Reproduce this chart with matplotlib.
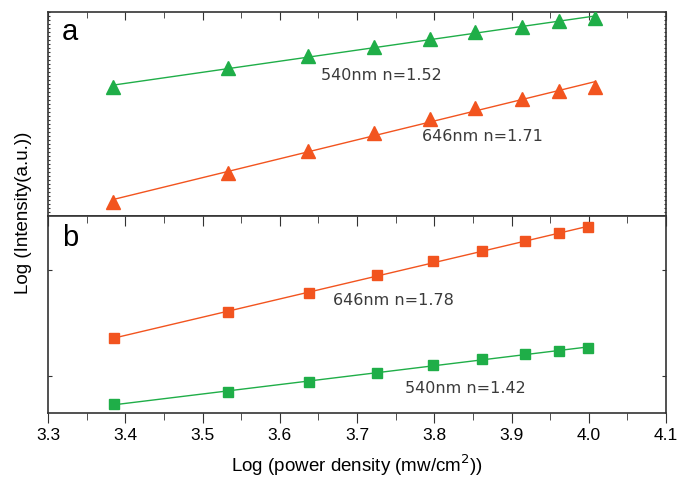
import numpy as np
import matplotlib
matplotlib.use("Agg")
import matplotlib.pyplot as plt
from matplotlib.ticker import MultipleLocator

# ── Data (arbitrary log-intensity units) ──────────────────────────────────────
xa_540 = [3.384, 3.533, 3.636, 3.722, 3.794, 3.853, 3.913, 3.961, 4.008]
ya_540 = [1.287, 1.483, 1.600, 1.693, 1.767, 1.837, 1.887, 1.950, 1.983]
xa_646 = [3.384, 3.533, 3.636, 3.722, 3.794, 3.853, 3.913, 3.961, 4.008]
ya_646 = [0.140, 0.433, 0.647, 0.827, 0.973, 1.077, 1.173, 1.247, 1.287]

xb_646 = [3.385, 3.533, 3.638, 3.726, 3.799, 3.862, 3.918, 3.961, 3.999]
yb_646 = [0.750, 1.010, 1.203, 1.377, 1.517, 1.623, 1.717, 1.797, 1.857]
xb_540 = [3.385, 3.533, 3.638, 3.726, 3.799, 3.862, 3.918, 3.961, 3.999]
yb_540 = [0.087, 0.213, 0.313, 0.403, 0.483, 0.537, 0.587, 0.623, 0.653]

labels_a = ["540nm n=1.52", "646nm n=1.71"]
labels_b = ["646nm n=1.78", "540nm n=1.42"]

GREEN = "#1FAE48"
RED = "#F2541F"
TXT = "#3a3a3a"
plt.rcParams["font.family"] = ["Liberation Sans", "DejaVu Sans"]

fig = plt.figure(figsize=(6.84, 4.78), dpi=100)
axa = fig.add_axes([0.0702, 0.5481, 0.9035, 0.4268])
axb = fig.add_axes([0.0702, 0.1360, 0.9035, 0.4121])

def fit_line(ax, x, y, color):
    p = np.polyfit(x, y, 1)
    xx = np.array([min(x), max(x)])
    ax.plot(xx, np.polyval(p, xx), color=color, lw=1.0, zorder=2)

ann = dict(fontsize=11.5, color=TXT, va="center", family="DejaVu Sans")

# panel a
for x, y, c in [(xa_540, ya_540, GREEN), (xa_646, ya_646, RED)]:
    fit_line(axa, x, y, c)
    axa.plot(x, y, ls="none", marker="^", ms=10, color=c, mec=c, zorder=3)
axa.text(3.653, 1.41, labels_a[0], **ann)
axa.text(3.784, 0.80, labels_a[1], **ann)
axa.text(0.022, 0.90, "a", transform=axa.transAxes, fontsize=21, va="center")
axa.set_ylim(0, 2.04)

# panel b
for x, y, c in [(xb_646, yb_646, RED), (xb_540, yb_540, GREEN)]:
    fit_line(axb, x, y, c)
    axb.plot(x, y, ls="none", marker="s", ms=7.5, color=c, mec=c, zorder=3)
axb.text(3.669, 1.13, labels_b[0], **ann)
axb.text(3.762, 0.24, labels_b[1], **ann)
axb.text(0.022, 0.89, "b", transform=axb.transAxes, fontsize=21, va="center")
axb.set_ylim(0, 1.97)
axb.set_yticks([0.37, 1.43])

for ax in (axa, axb):
    ax.set_xlim(3.3, 4.1)
    ax.xaxis.set_major_locator(MultipleLocator(0.1))
    ax.xaxis.set_minor_locator(MultipleLocator(0.05))
    for s in ax.spines.values():
        s.set_linewidth(1.2)
        s.set_color("#333333")
    ax.tick_params(axis="y", which="both", left=True, right=True,
                   labelleft=False, direction="in", length=3, color="#333333")

axa.yaxis.set_major_locator(MultipleLocator(0.04))
axa.tick_params(axis="y", length=1.5, width=0.8)
axa.tick_params(axis="x", which="both", top=True, bottom=False,
                labelbottom=False, direction="in", color="#333333")
axa.tick_params(axis="x", which="major", length=6)
axa.tick_params(axis="x", which="minor", length=4)

axb.tick_params(axis="x", which="both", top=True, bottom=True,
                direction="out", color="#333333", labelsize=12.5, pad=4)
axb.tick_params(axis="x", which="major", length=7)
axb.tick_params(axis="x", which="minor", length=5)
# top ticks of panel b point inward
for t in axb.xaxis.get_major_ticks() + axb.xaxis.get_minor_ticks():
    t.tick2line.set_marker(3)

axb.set_xlabel("Log (power density (mw/cm$^2$))", fontsize=13.5, labelpad=7)
fig.text(0.034, 0.555, "Log (Intensity(a.u.))", rotation=90, fontsize=13.5,
         ha="center", va="center")

fig.savefig("out.png", dpi=100)
